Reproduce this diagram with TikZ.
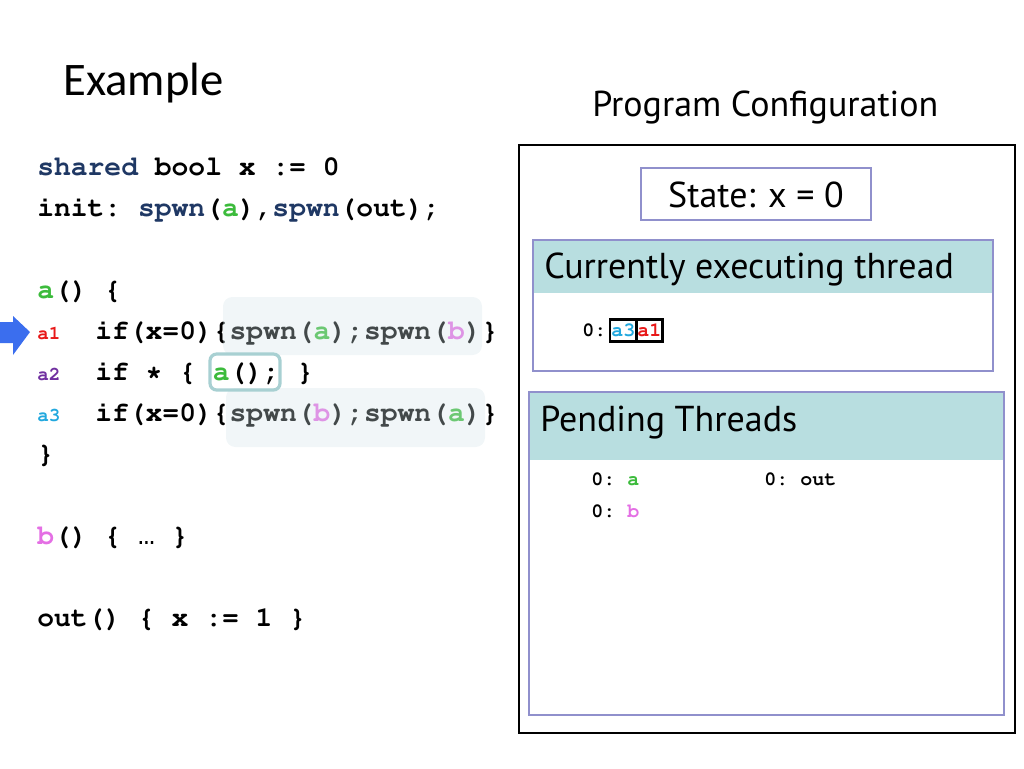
\documentclass[tikz,border=0pt]{standalone}
\usepackage{fontspec}
\setmainfont{PT Sans}
\setmonofont{Liberation Mono}
\newfontfamily\calfont{Carlito}
\usepackage{tikz}
\usetikzlibrary{positioning}

\definecolor{navy}{HTML}{1F3864}
\definecolor{agreen}{HTML}{3CBB3C}
\definecolor{bpink}{HTML}{E46FE4}
\definecolor{lred}{HTML}{E81818}
\definecolor{lpurple}{HTML}{7030A0}
\definecolor{lcyan}{HTML}{22A8DE}
\definecolor{ptrblue}{HTML}{3B6EEE}
\definecolor{hltint}{HTML}{D2E4E8}
\definecolor{boxteal}{HTML}{A8D0D2}
\definecolor{hdrfill}{HTML}{B8DEE0}
\definecolor{frameblue}{HTML}{9090CC}

\newcommand{\courb}{\fontencoding{T1}\fontfamily{pcr}\fontseries{b}\selectfont\frenchspacing}
\newcommand{\ida}{\textcolor{agreen}{a}}
\newcommand{\idb}{\textcolor{bpink}{b}}
\newcommand{\kw}[1]{\textcolor{navy}{#1}}
\newcommand{\elide}{{\fontencoding{TU}\fontfamily{\ttdefault}\fontseries{m}\selectfont …}}

\begin{document}
\begin{tikzpicture}[x=0.75pt, y=-0.75pt,
  code/.style={anchor=base west, inner sep=0pt,
    font=\fontsize{21}{25}\courb},
  lbl/.style={anchor=base west, inner sep=0pt,
    font=\fontsize{14.5}{17}\courb},
  small/.style={anchor=base west, inner sep=0pt,
    font=\fontsize{15}{18}\courb},
  stk/.style={draw, line width=1.8pt, inner xsep=0.8pt, inner ysep=0pt,
    minimum height=16.5pt, font=\fontsize{15}{18}\courb},
  title/.style={anchor=base west, inner sep=0pt, font=\fontsize{27}{32}\selectfont},
  frame/.style={draw=frameblue, line width=0.9pt},
  hl/.style={fill=hltint, fill opacity=0.32, rounded corners=7pt},
]
\useasboundingbox (0,0) rectangle (1024,768);

% left: program text
\node[anchor=base west, inner sep=0pt, font=\calfont\fontsize{35}{42}\selectfont]
  (head) at (63,95) {Example};
\node[code] (l1) at (37,175) {\kw{shared} bool x := 0};
\node[code] (l2) at (37,216) {init: \kw{spwn}(\ida),\kw{spwn}(out);};
\node[code] (l3) at (37,298) {\ida() \{};
\node[lbl, text=lred] (a1) at (37,339) {a1};
\node[code] (l4) at (95,339) {if(x=0)\{spwn(\ida);spwn(\idb)\}};
\node[lbl, text=lpurple] (a2) at (37,380) {a2};
\node[code] (l5) at (95,380) {if * \{ \ida(); \}};
\node[lbl, text=lcyan] (a3) at (37,421) {a3};
\node[code] (l6) at (95,421) {if(x=0)\{spwn(\idb);spwn(\ida)\}};
\node[code] (l7) at (37,462) {\}};
\node[code] (l8) at (37,544) {\idb() \{ \elide{} \}};
\node[code] (l9) at (37,626) {out() \{ x := 1 \}};

% highlights
\fill[hl] (223,297) rectangle (482,355);
\fill[hl] (226,388) rectangle (485,447);
\draw[boxteal, line width=2.4pt, rounded corners=5pt] (210,354) rectangle (280,390);

% pointer
\fill[ptrblue] (0,322) -- (13,322) -- (13,316) -- (30,332) -- (13,355)
  -- (13,343) -- (0,343) -- cycle;

% right: configuration
\node[title] (cfg) at (592,116) {Program Configuration};
\draw[line width=2.2pt] (519,145) rectangle (1015,733);

\draw[frame] (641,168) rectangle (871,220);
\node[anchor=base, inner sep=0pt, font=\fontsize{27}{32}\selectfont]
  (state) at (756,207) {State: x = 0};

\fill[hdrfill] (533,240) rectangle (993,293);
\draw[frame] (533,240) rectangle (993,371);
\node[title] (cur) at (544,278) {Currently executing thread};
\node[small] (t0) at (582,336) {0:};
\node[stk, text=lcyan, anchor=west] (s1) at (609,330.5) {a3};
\node[stk, text=lred, right=-1.8pt of s1] (s2) {a1};

\fill[hdrfill] (529,392) rectangle (1004,460);
\draw[frame] (529,392) rectangle (1004,715);
\node[title] (pend) at (540,431) {Pending Threads};
\node[small] (p1) at (591,485) {0: \ida};
\node[small] (p2) at (591,517) {0: \idb};
\node[small] (p3) at (764,485) {0: out};
\end{tikzpicture}
\end{document}
